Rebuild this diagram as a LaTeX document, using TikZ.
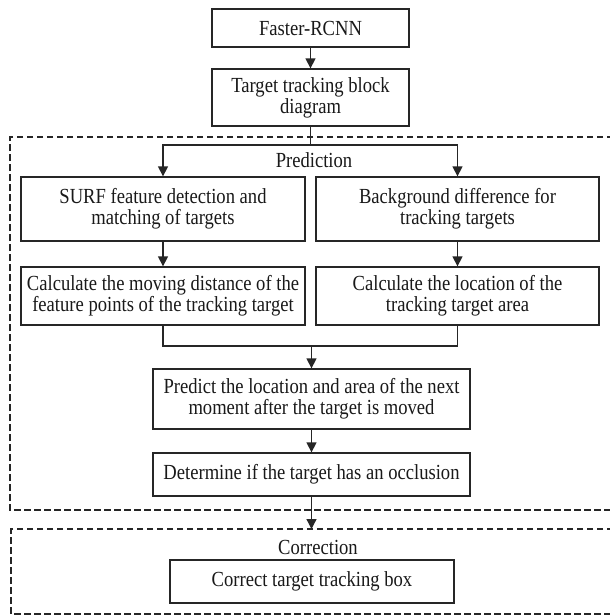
\documentclass[tikz,border=0pt]{standalone}
\usepackage{fontspec}
\setmainfont[FakeStretch=0.865]{Liberation Serif}
\usetikzlibrary{arrows.meta}
\begin{document}
\begin{tikzpicture}[x=1pt,y=-1pt,
  ln/.style={line width=1.3pt, draw=black!85},
  box/.style={ln, rectangle, inner sep=0pt, align=center, text=black!90,
    font=\fontsize{21.5}{21}\selectfont},
  tightbox/.style={box, font=\fontsize{21.5}{19}\selectfont},
  lbl/.style={inner sep=0pt, text=black!90, font=\fontsize{21.5}{21}\selectfont},
  arr/.style={ln, -{Triangle[length=10pt,width=10pt]}},
  grp/.style={ln, dash pattern=on 6.5pt off 3.5pt}]
\useasboundingbox[fill=white] (0,0) rectangle (610,616);

\node[box, minimum width=197pt, minimum height=38pt] (faster) at (310.5,28) {Faster-RCNN};
\node[box, minimum width=197pt, minimum height=57pt] (target) at (310.5,97.5) {Target tracking block\\diagram};

\node[box, minimum width=284pt, minimum height=64pt] (surf) at (163,209) {SURF feature detection and\\matching of targets};
\node[box, minimum width=283pt, minimum height=64pt] (bg) at (457.5,209) {Background difference for\\tracking targets};

\node[tightbox, minimum width=284pt, minimum height=58pt] (calcL) at (163,296) {Calculate the moving distance of the\\feature points of the tracking target};
\node[box, minimum width=283pt, minimum height=58pt] (calcR) at (457.5,296) {Calculate the location of the\\tracking target area};

\node[box, minimum width=317pt, minimum height=60pt] (predict) at (311.5,399) {Predict the location and area of the next\\moment after the target is moved};
\node[box, minimum width=317pt, minimum height=43pt] (determine) at (311.5,474.5) {Determine if the target has an occlusion};

\node[box, minimum width=284pt, minimum height=43pt] (correct) at (312,581.5) {Correct target tracking box};

\node[lbl] (predlbl) at (314,160) {Prediction};
\node[lbl] (corrlbl) at (318,547) {Correction};

% group frames
\draw[grp] (613,137) -- (10,137) -- (10,510) -- (613,510);
\draw[grp] (613,529) -- (11,529) -- (11,614) -- (613,614);

% connectors
\coordinate (split) at (310.5,145);
\coordinate (merge) at (311.5,346);
\coordinate (corrtop) at (311.5,529);

\draw[arr] (faster) -- (target);
\draw[ln] (target) -- (split);
\draw[arr] (split) -| (surf.north);
\draw[arr] (split) -| (bg.north);
\draw[arr] (surf) -- (calcL);
\draw[arr] (bg) -- (calcR);
\draw[ln] (calcL.south) |- (merge) -| (calcR.south);
\draw[arr] (merge) -- (predict.north);
\draw[arr] (predict) -- (determine);
\draw[arr] (determine) -- (corrtop);
\end{tikzpicture}
\end{document}
